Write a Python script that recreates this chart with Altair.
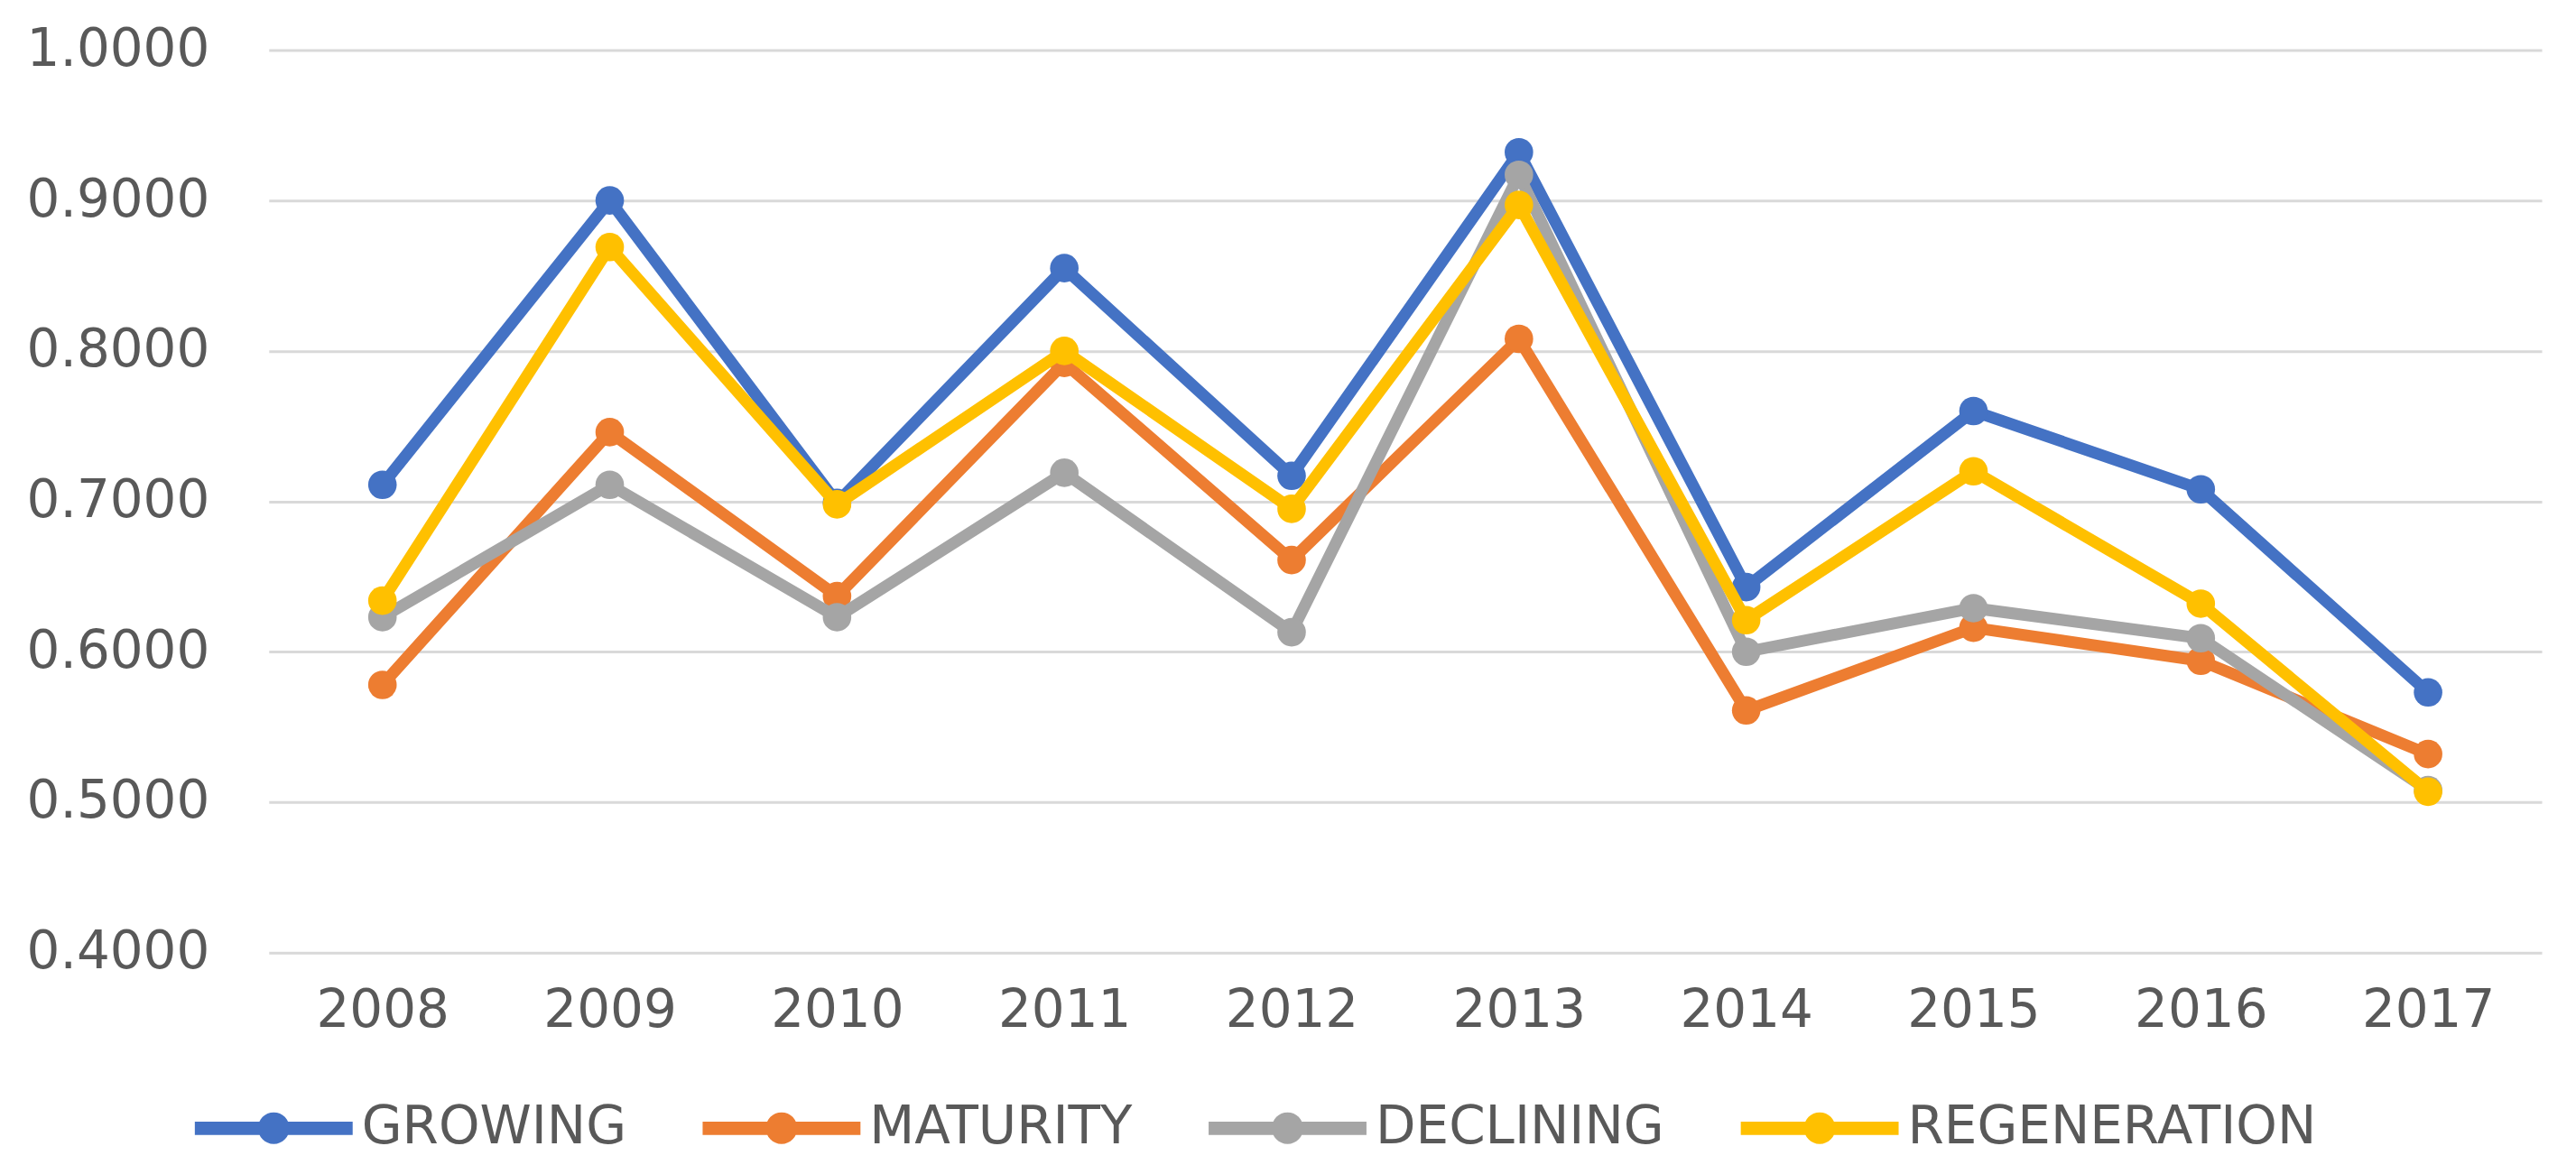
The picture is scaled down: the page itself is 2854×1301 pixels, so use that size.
import altair as alt
import pandas as pd

years = ["2008", "2009", "2010", "2011", "2012", "2013", "2014", "2015", "2016", "2017"]
series_names = ["GROWING", "MATURITY", "DECLINING", "REGENERATION"]
growing = [0.711, 0.900, 0.699, 0.855, 0.717, 0.932, 0.643, 0.760, 0.708, 0.573]
maturity = [0.578, 0.746, 0.637, 0.792, 0.661, 0.808, 0.561, 0.616, 0.594, 0.532]
declining = [0.623, 0.711, 0.623, 0.719, 0.613, 0.917, 0.600, 0.629, 0.609, 0.508]
regeneration = [0.634, 0.869, 0.698, 0.800, 0.695, 0.897, 0.621, 0.720, 0.632, 0.507]
colors = ["#4472C4", "#ED7D31", "#A5A5A5", "#FFC000"]
y_ticks = [0.4, 0.5, 0.6, 0.7, 0.8, 0.9, 1.0]

rows = []
for name, vals in zip(series_names, [growing, maturity, declining, regeneration]):
    for yr, v in zip(years, vals):
        rows.append({"year": yr, "series": name, "value": v})
df = pd.DataFrame(rows)

FONT = "DejaVu Sans"
LABEL_COLOR = "#595959"
FS = 58

x_enc = alt.X(
    "year:O", sort=years,
    axis=alt.Axis(title=None, labelAngle=0, domain=False, ticks=False, grid=False,
                  labelFontSize=FS, labelColor=LABEL_COLOR, labelFont=FONT, labelPadding=36,
                  labelLimit=0),
)
y_enc = alt.Y(
    "value:Q",
    scale=alt.Scale(domain=[0.4, 1.0], nice=False, zero=False),
    axis=alt.Axis(title=None, values=y_ticks, format=".4f", domain=False, ticks=False,
                  grid=True, gridColor="#D9D9D9", gridWidth=3,
                  labelFontSize=FS, labelColor=LABEL_COLOR, labelFont=FONT, labelPadding=66,
                  labelLimit=0),
)

legend_symbol = ("M-1,-0.085L1,-0.085L1,0.085L-1,0.085Z "
                 "M0.2,0A0.2,0.2 0 1,1 -0.2,0A0.2,0.2 0 1,1 0.2,0Z")

color_enc = alt.Color(
    "series:N",
    scale=alt.Scale(domain=series_names, range=colors),
    legend=alt.Legend(title=None, orient="none", legendX=-82, legendY=1108,
                      direction="horizontal", symbolType=legend_symbol, symbolSize=30625,
                      symbolStrokeWidth=0, symbolOpacity=1, labelFontSize=FS,
                      labelColor=LABEL_COLOR, labelFont=FONT, columnPadding=84,
                      labelOffset=10, labelLimit=0),
)

base = alt.Chart(df)
layers = []
for name, col in zip(series_names, colors):
    sub = base.transform_filter(alt.datum.series == name)
    layers.append(sub.mark_line(strokeWidth=13, color=col).encode(x=x_enc, y=y_enc))
    layers.append(sub.mark_point(filled=True, size=1000, opacity=1).encode(x=x_enc, y=y_enc, color=color_enc))

chart = alt.layer(*layers).properties(
    width=2520, height=1001,
    autosize=alt.AutoSizeParams(type="none"),
    padding={"left": 290, "top": 47, "right": 30, "bottom": 245},
    background="white",
).configure_view(stroke=None)

chart.save("out.html", embed_options={"renderer": "svg", "actions": False})
